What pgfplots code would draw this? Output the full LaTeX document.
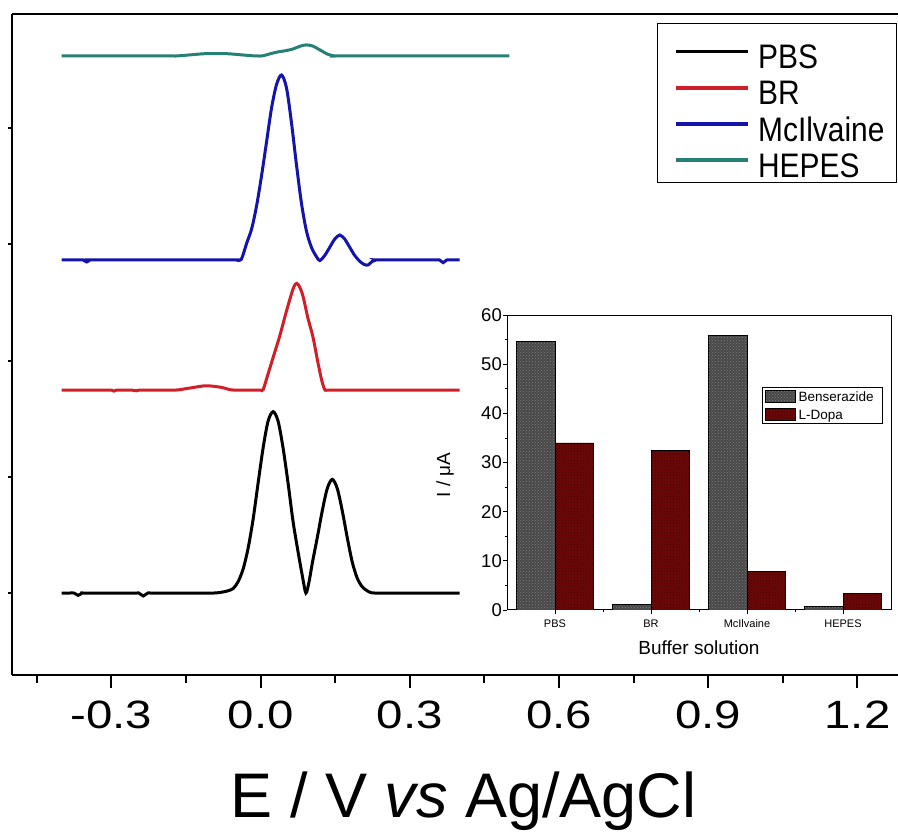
\documentclass[border=0pt]{standalone}
\usepackage{pgfplots}
\pgfplotsset{compat=1.18}
\usetikzlibrary{patterns}
\usepackage{fontspec}
\setmainfont{Liberation Sans}
\newfontfamily\tickfam{Liberation Sans}[FakeStretch=1.2]
\newfontfamily\legfam{Liberation Sans}[FakeStretch=0.88]
\newcommand\tickfont{\tickfam\fontsize{39.5}{44}\selectfont}
\newcommand\legfont{\legfam\fontsize{34}{38}\selectfont}
\definecolor{cPBS}{RGB}{0,0,0}
\definecolor{cBR}{RGB}{210,30,40}
\definecolor{cMc}{RGB}{20,20,170}
\definecolor{cHE}{RGB}{38,128,118}
\definecolor{bensfill}{RGB}{72,72,72}
\definecolor{bensdot}{RGB}{130,130,130}
\definecolor{ldopafill}{RGB}{110,8,8}
\definecolor{ldopadot}{RGB}{55,0,0}
\begin{document}
\begin{tikzpicture}
\useasboundingbox (0pt,0pt) rectangle (898pt,831pt);
\begin{axis}[
 at={(12pt,156pt)}, anchor=south west,
 scale only axis, width=886pt, height=661pt,
 xmin=-0.5, xmax=1.2816, ymin=-0.705, ymax=4.981,
 axis x line=box, axis y line=left,
 axis line style={line width=2.5pt},
 y axis line style={-},
 xtick={-0.3,0,0.3,0.6,0.9,1.2},
 xticklabels={-0.3,0.0,0.3,0.6,0.9,1.2},
 minor xtick={-0.45,-0.15,0.15,0.45,0.75,1.05},
 xtick pos=left, xtick align=outside,
 ytick={0,1,2,3,4}, yticklabels={}, ytick align=outside,
 major tick length=13pt, minor tick length=8pt,
 xtick style={line width=2pt, color=black},
 ytick style={line width=2pt, color=black, /pgfplots/major tick length=4pt},
 xticklabel style={font=\tickfont, anchor=base, yshift=-40pt, inner sep=0pt},
 xlabel={E / V \textit{vs} Ag/AgCl},
 xlabel style={font=\fontsize{63}{70}\selectfont, at={(axis description cs:0.5096,0)}, anchor=base, yshift=-142pt, inner sep=0pt},
 legend style={at={(1,1)}, anchor=north east, xshift=-1pt, yshift=-9pt, draw=black, line width=1pt, fill=white,
   font=\legfont, inner xsep=12pt, inner ysep=5pt, row sep=-3.7pt, column sep=0pt,
   nodes={inner sep=0pt, text height=40pt, text depth=0pt}},
 legend cell align=left,
 legend image code/.code={\path[draw=none,fill=none] (-7pt,-20pt) rectangle (82pt,20pt); \draw[#1, line width=3.8pt] (0pt,-3pt) -- (72pt,-3pt);},
 every axis plot/.append style={line width=3pt, smooth, tension=0.5},
]
\addplot[cPBS] coordinates {
(-0.40,0) (-0.385,0) (-0.375,0) (-0.367,-0.02) (-0.359,0) (-0.35,0) (-0.255,0) (-0.245,0) (-0.236,-0.025)
(-0.227,0) (-0.215,0) (-0.105,0) (-0.095,0) (-0.085,0.003)
(-0.075,0.01) (-0.065,0.02) (-0.055,0.04) (-0.045,0.10) (-0.035,0.21) (-0.025,0.39) (-0.015,0.64)
(-0.005,0.95) (0.005,1.25) (0.015,1.48) (0.025,1.56) (0.035,1.48) (0.045,1.25) (0.055,0.95)
(0.065,0.62) (0.075,0.36) (0.085,0.12) (0.091,0.0) (0.097,0.09) (0.104,0.26) (0.114,0.48)
(0.124,0.71) (0.134,0.90) (0.144,0.978) (0.154,0.90) (0.164,0.71) (0.174,0.48) (0.184,0.27)
(0.194,0.13) (0.204,0.055) (0.214,0.02) (0.222,0.003) (0.232,0) (0.245,0) (0.40,0)};
\addlegendentry{PBS}
\addplot[cBR] coordinates {
(-0.40,1.746) (-0.31,1.746) (-0.30,1.746) (-0.295,1.737) (-0.29,1.746) (-0.28,1.746) (-0.26,1.746)
(-0.25,1.74) (-0.24,1.746) (-0.18,1.746) (-0.165,1.748) (-0.14,1.765) (-0.11,1.783) (-0.08,1.77)
(-0.06,1.748) (-0.045,1.746) (-0.01,1.746) (0.0,1.746) (0.005,1.75)
(0.015,1.886) (0.025,2.026) (0.038,2.206) (0.05,2.396) (0.06,2.546) (0.067,2.636) (0.0725,2.664)
(0.078,2.636) (0.085,2.556) (0.095,2.366) (0.105,2.206) (0.115,1.986) (0.123,1.826) (0.129,1.75)
(0.135,1.746) (0.145,1.746) (0.40,1.746)};
\addlegendentry{BR}
\addplot[cMc] coordinates {
(-0.40,2.865) (-0.365,2.865) (-0.357,2.865) (-0.35,2.848) (-0.343,2.865) (-0.335,2.865) (-0.06,2.865)
(-0.049,2.865) (-0.039,2.87) (-0.028,3.011)
(-0.018,3.135) (-0.008,3.335) (0.002,3.595) (0.012,3.885) (0.022,4.175) (0.032,4.375) (0.042,4.456)
(0.052,4.345) (0.062,4.045) (0.072,3.685) (0.082,3.355) (0.092,3.115) (0.102,2.975) (0.112,2.895)
(0.119,2.860) (0.129,2.905) (0.139,2.975) (0.149,3.045) (0.159,3.08) (0.169,3.045) (0.179,2.975)
(0.189,2.905) (0.199,2.855) (0.208,2.827) (0.216,2.822) (0.224,2.852) (0.232,2.865) (0.242,2.865)
(0.352,2.865) (0.36,2.865) (0.367,2.842) (0.374,2.865) (0.382,2.865) (0.40,2.865)};
\addlegendentry{McIlvaine}
\addplot[cHE] coordinates {
(-0.40,4.62) (-0.19,4.62) (-0.17,4.62) (-0.14,4.63) (-0.11,4.64) (-0.07,4.64) (-0.04,4.63) (-0.01,4.62)
(0.005,4.622) (0.02,4.64) (0.035,4.655) (0.05,4.665) (0.065,4.68) (0.08,4.705) (0.092,4.715) (0.105,4.705)
(0.12,4.67) (0.135,4.635) (0.149,4.62) (0.165,4.62) (0.50,4.62)};
\addlegendentry{HEPES}
\end{axis}
\begin{axis}[
 at={(507pt,221pt)}, anchor=south west, scale only axis, width=384pt, height=295pt,
 xmin=-0.5, xmax=3.5, ymin=0, ymax=60,
 xtick={0,1,2,3}, xticklabels={PBS,BR,McIlvaine,HEPES},
 ytick={0,10,...,60}, minor ytick={5,15,...,55}, minor xtick={0.5,1.5,2.5},
 tick align=outside, tick pos=left,
 major tick length=4pt, minor tick length=2.5pt,
 axis line style={line width=1pt}, tick style={line width=0.8pt, black},
 /pgf/number format/assume math mode=true,
 yticklabel style={font=\fontsize{18.5}{20}\selectfont, inner sep=1pt},
 xticklabel style={font=\fontsize{11}{12}\selectfont, anchor=base, yshift=-14pt, inner sep=0pt},
 xlabel={Buffer solution},
 xlabel style={font=\fontsize{19}{20}\selectfont, at={(axis description cs:0.5,0)}, anchor=base, yshift=-45pt, inner sep=0pt},
 ylabel={I / μA},
 ylabel style={font=\fontsize{19}{20}\selectfont, at={(axis description cs:-0.161,0.458)}, anchor=center, inner sep=0pt},
 ybar, bar width=0.4,
 legend style={at={(axis description cs:0.664,0.7559)}, anchor=north west, draw=black, line width=0.8pt,
   font=\fontsize{13.5}{15}\selectfont, inner xsep=3pt, inner ysep=3pt, row sep=5pt, column sep=0pt,
   nodes={inner sep=0pt, text height=10pt, text depth=0pt}},
 legend cell align=left,
 legend image code/.code={\pgfpathmoveto{\pgfqpoint{33pt}{0pt}}\pgfusepath{discard}\draw[#1] (0pt,-6pt) rectangle (30pt,6pt);},
]
\addplot[bar shift=-0.2, draw=black, line width=0.6pt, fill=bensfill, postaction={pattern=crosshatch dots, pattern color=bensdot}]
 coordinates {(0,54.7) (1,1.2) (2,55.9) (3,0.7)};
\addlegendentry{Benserazide\hspace*{6pt}}
\addplot[bar shift=0.2, draw=black, line width=0.6pt, fill=ldopafill, postaction={pattern=crosshatch dots, pattern color=ldopadot}]
 coordinates {(0,34.0) (1,32.4) (2,7.9) (3,3.3)};
\addlegendentry{L-Dopa}
\end{axis}
\end{tikzpicture}
\end{document}
